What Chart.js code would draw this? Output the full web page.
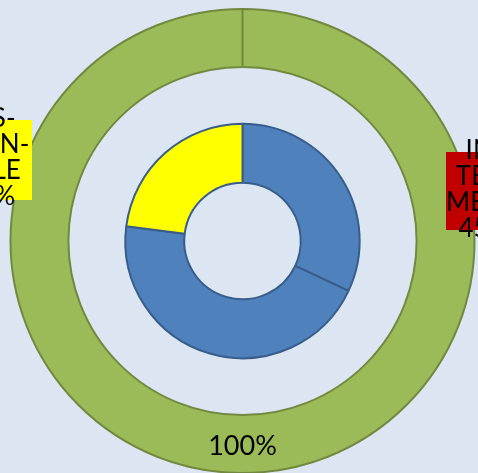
<!DOCTYPE html>
<html><head><meta charset="utf-8">
<script src="https://cdn.jsdelivr.net/npm/chart.js@4/dist/chart.umd.min.js"></script>
<style>html,body{margin:0;padding:0;background:#dce6f2;overflow:hidden}canvas{display:block}</style>
</head><body><canvas id="c" width="478" height="473"></canvas>
<script>
const outerCategories = ["Total"];
const outerValues = [100];
const innerCategories = ["Grupo 1", "Intermedio", "Grupo 3"];
const innerValues = [32, 45, 23];
const redCalloutLines = ["IN-", "TER-", "MEDI-", "45%"];
const yellowCalloutLines = ["LES-", "VULN-", "ABLE", "23%"];

const FONT = '26px Lato, "Liberation Sans", sans-serif';

function drawCallout(ctx, box, fill, lines, tx, tyc) {
  ctx.save();
  ctx.fillStyle = fill;
  ctx.fillRect(box.x, box.y, box.w, box.h);
  ctx.fillStyle = '#000';
  ctx.font = FONT;
  ctx.textAlign = 'center';
  ctx.textBaseline = 'middle';
  const lh = 26;
  lines.forEach((t, i) => {
    ctx.fillText(t, tx, tyc + (i - (lines.length - 1) / 2) * lh);
  });
  ctx.restore();
}

const labelPlugin = {
  id: 'labels',
  afterDatasetsDraw(chart) {
    const ctx = chart.ctx;
    const arc = chart.getDatasetMeta(0).data[0];
    const cx = arc.x, cy = arc.y;
    const p = arc.tooltipPosition();
    ctx.save();
    ctx.font = '27px Lato, "Liberation Sans", sans-serif';
    ctx.fillStyle = '#000';
    ctx.textAlign = 'center';
    ctx.textBaseline = 'middle';
    ctx.fillText(outerValues[0] + '%', p.x, p.y + 2);
    ctx.restore();
    drawCallout(ctx, {x: cx + 203.5, y: cy - 89, w: 82, h: 78}, '#c00000', redCalloutLines, cx + 241.5, cy - 51.5);
    drawCallout(ctx, {x: cx - 287.5, y: cy - 121, w: 77, h: 80}, '#ffff00', yellowCalloutLines, cx - 253, cy - 83);
  }
};

new Chart(document.getElementById('c'), {
  type: 'doughnut',
  data: {
    labels: innerCategories,
    datasets: [
      {label: outerCategories[0], data: outerValues, backgroundColor: '#9bbb59', borderColor: '#71893f', borderWidth: 2, weight: 58, clip: false},
      {label: 'spacer', data: [1], backgroundColor: 'rgba(0,0,0,0)', borderWidth: 0, weight: 57, clip: false},
      {label: 'inner', data: innerValues, backgroundColor: ['#4f81bd', '#4f81bd', '#ffff00'], borderColor: '#385d8a', borderWidth: 2, weight: 59, clip: false}
    ]
  },
  options: {
    responsive: false,
    animation: false,
    radius: 232,
    cutout: 58,
    layout: {padding: {left: 7, right: 0, top: 9, bottom: 0}},
    plugins: {legend: {display: false}, tooltip: {enabled: false}}
  },
  plugins: [labelPlugin]
});
</script>
</body></html>
